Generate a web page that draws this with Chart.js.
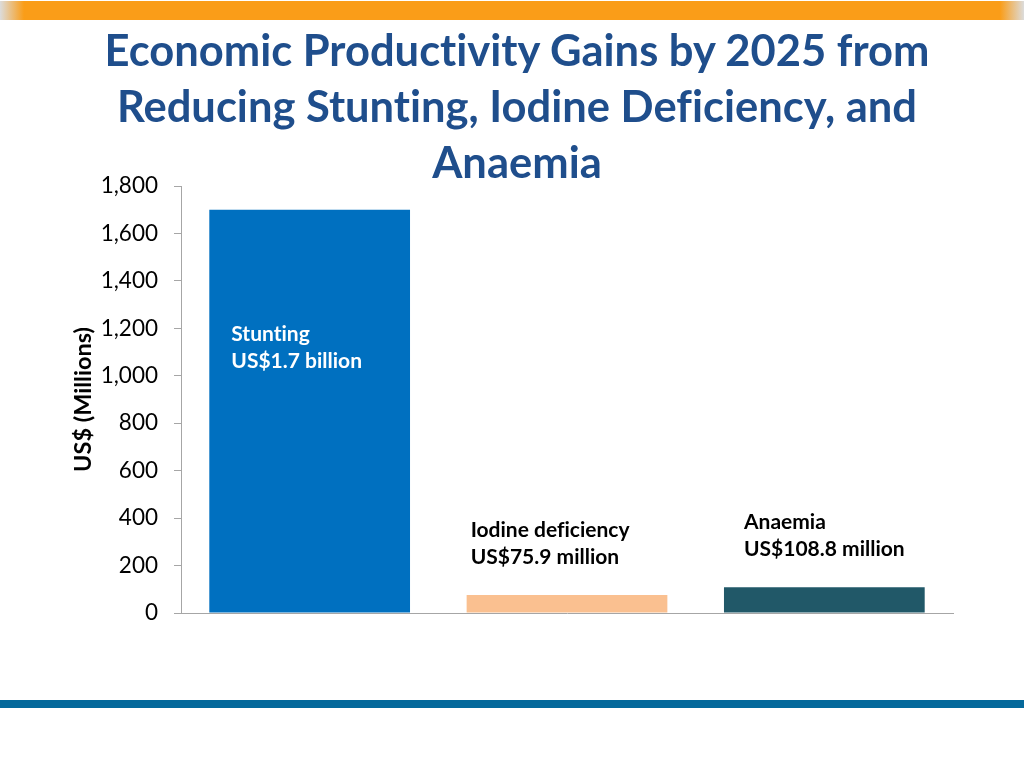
<!DOCTYPE html>
<html>
<head>
<meta charset="utf-8">
<script src="https://cdn.jsdelivr.net/npm/chart.js@4/dist/chart.umd.min.js"></script>
<style>
  html, body { margin: 0; padding: 0; background: #fff; }
  #page { position: relative; width: 1024px; height: 768px; overflow: hidden; font-family: Lato, sans-serif; }
  #topBand { position: absolute; left: 0; top: 1px; width: 1024px; height: 19px;
    background: linear-gradient(to right, #dcdcdc 0px, #fa9d18 24px, #fa9d18 1000px, #dcdcdc 1024px); }
  #bottomBand { position: absolute; left: 0; top: 700px; width: 1024px; height: 8px; background: #05699b; }
  #title { position: absolute; left: 5px; top: 21px; width: 1024px; text-align: center;
    font-size: 43.5px; font-weight: bold; line-height: 56px; color: #1f4e8c;
    font-variant-ligatures: none; }
  #chart { position: absolute; left: 0; top: 0; }
</style>
</head>
<body>
<div id="page">
  <div id="topBand"></div>
  <div id="bottomBand"></div>
  <canvas id="chart" width="1024" height="768"></canvas>
  <div id="title">Economic Productivity Gains by 2025 from<br>Reducing Stunting, Iodine Deficiency, and<br>Anaemia</div>
</div>
<script>
// Productivity gains, US$ millions
const categories = ['Stunting', 'Iodine deficiency', 'Anaemia'];
const gains = [1700, 75.9, 108.8];
const barLabels = [
    ['Stunting', 'US$1.7 billion'],
    ['Iodine deficiency', 'US$75.9 million'],
    ['Anaemia', 'US$108.8 million']
];
const barColors = ['#0070c0', '#fac090', '#215868'];
const yMax = 1800;
const yStep = 200;

// text next to / inside each bar (offsets from bar left and bar top)
const labelPlugin = {
    id: 'barText',
    afterDatasetsDraw(chart) {
        const ctx = chart.ctx;
        const bars = chart.getDatasetMeta(0).data;
        const offsets = [
            { dx: 22, dy: 125, color: '#ffffff' },
            { dx: 4, dy: -65, color: '#000000' },
            { dx: 20, dy: -65, color: '#000000' }
        ];
        ctx.save();
        ctx.font = 'bold 21px Lato';
        ctx.textRendering = 'optimizeSpeed'; // no "ti" ligature
        ctx.textAlign = 'left';
        ctx.textBaseline = 'middle';
        bars.forEach((bar, i) => {
            const left = bar.x - bar.width / 2;
            ctx.fillStyle = offsets[i].color;
            barLabels[i].forEach((line, j) => {
                ctx.fillText(line, left + offsets[i].dx, bar.y + offsets[i].dy + j * 27);
            });
        });
        ctx.restore();
    }
};

new Chart(document.getElementById('chart').getContext('2d'), {
    type: 'bar',
    data: {
        labels: categories,
        datasets: [{
            data: gains,
            backgroundColor: barColors,
            borderWidth: 0,
            barPercentage: 0.78,
            categoryPercentage: 1.0
        }]
    },
    options: {
        responsive: false,
        animation: false,
        layout: { padding: { top: 186, right: 71, bottom: 155, left: 0 } },
        plugins: {
            legend: { display: false },
            tooltip: { enabled: false }
        },
        scales: {
            x: {
                afterFit(scale) { scale.height = 0; },
                ticks: { display: false },
                grid: { drawOnChartArea: false, drawTicks: false },
                border: { color: '#a6a6a6', width: 1 }
            },
            y: {
                min: 0,
                max: yMax,
                afterFit(scale) { scale.width = 181; },
                ticks: {
                    stepSize: yStep,
                    padding: 16,
                    color: '#000000',
                    font: { family: 'Lato', size: 22.5 }
                },
                grid: { drawOnChartArea: false, drawTicks: true, tickLength: 7, color: '#a6a6a6' },
                border: { color: '#a6a6a6', width: 1 },
                title: {
                    display: true,
                    text: 'US$ (Millions)',
                    color: '#000000',
                    font: { family: 'Lato', size: 23.5, weight: 'bold' },
                    padding: { top: 69, bottom: 0 }
                }
            }
        }
    },
    plugins: [labelPlugin]
});
</script>
</body>
</html>
